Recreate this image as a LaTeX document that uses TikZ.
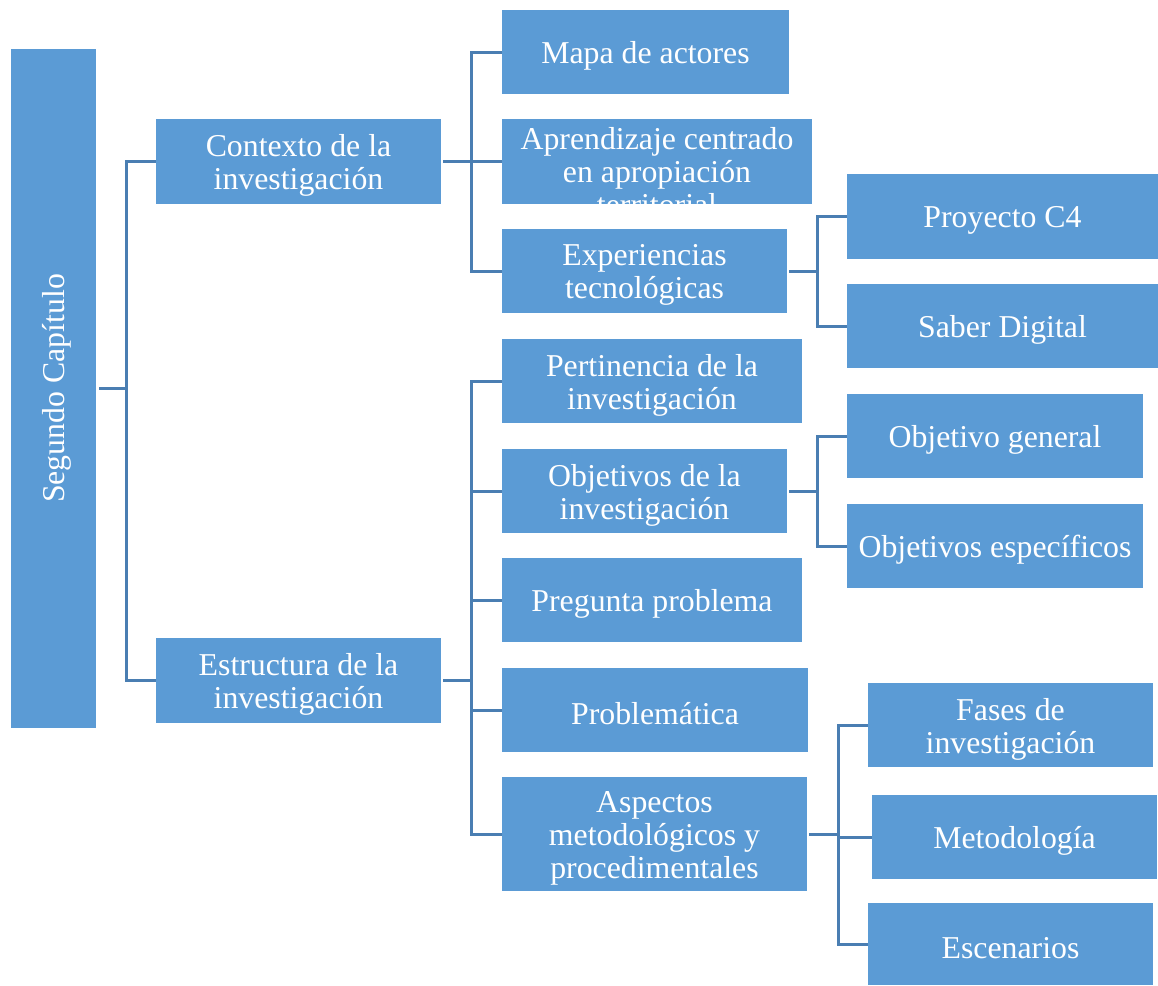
\documentclass[tikz,border=0pt]{standalone}
\usepackage{fontspec}
\setmainfont{Liberation Serif}
\definecolor{boxblue}{HTML}{5B9BD5}
\definecolor{lineblue}{HTML}{4A7EB2}
% \diagbox{name}{x1}{y1}{x2}{y2}{text}: filled box given by its corners, text centred
\newcommand\diagbox[6]{%
  \node[box,minimum width={(#4-#2)*1pt},minimum height={(#5-#3)*1pt}]
    (#1) at ({(#2+#4)/2},{(#3+#5)/2}) {};
  \node[boxtext] (#1-t) at ([yshift=-4pt]#1.center) {#6};}
\begin{document}
\begin{tikzpicture}[x=1pt,y=-1pt,
  box/.style={fill=boxblue,draw=none,inner sep=0pt,outer sep=0pt},
  boxtext/.style={text=white,align=center,inner sep=0pt,
    font=\fontsize{31.8}{33}\selectfont},
  conn/.style={draw=lineblue,line width=3pt,line cap=rect}]
\useasboundingbox (0,0) rectangle (1158,985);

% root
\diagbox{seg}{11}{49}{96}{728}{}
\node[boxtext,rotate=90] (segt) at ([xshift=3]seg.center) {Segundo Capítulo};

% first level
\diagbox{ctx}{156}{119}{441}{204}{Contexto de la\\investigación}
\diagbox{est}{156}{638}{441}{723}{Estructura de la\\investigación}

% children of "Contexto"
\diagbox{mapa}{502}{10}{789}{94}{Mapa de actores}
\diagbox{apr}{502}{119}{812}{204}{}
\begin{scope}
  \clip (apr.south west) rectangle (apr.north east);
  \node[boxtext] (aprt) at (657,172)
    {Aprendizaje centrado\\en apropiación\\territorial};
\end{scope}
\diagbox{exp}{502}{229}{787}{313}{Experiencias\\tecnológicas}

% children of "Estructura"
\diagbox{pert}{502}{339}{802}{423}{Pertinencia de la\\investigación}
\diagbox{obj}{502}{449}{787}{533}{Objetivos de la\\investigación}
\diagbox{preg}{502}{558}{802}{642}{Pregunta problema}
\diagbox{prob}{502}{668}{808}{752}{Problemática}
\diagbox{asp}{502}{777}{807}{891}{Aspectos\\metodológicos y\\procedimentales}

% third level
\diagbox{c4}{847}{174}{1158}{259}{Proyecto C4}
\diagbox{sab}{847}{284}{1158}{368}{Saber Digital}
\diagbox{ogen}{847}{394}{1143}{478}{Objetivo general}
\diagbox{oesp}{847}{504}{1143}{588}{Objetivos específicos}
\diagbox{fas}{868}{683}{1153}{767}{Fases de\\investigación}
\diagbox{met}{872}{795}{1157}{879}{Metodología}
\diagbox{esc}{868}{903}{1153}{985}{Escenarios}

% bus lines
\coordinate (b1) at (126,0);
\coordinate (b2) at (471,0);
\coordinate (b3) at (817,0);
\coordinate (b4) at (838,0);

% root -> first level
\draw[conn] ([xshift=4]seg.east) -- (seg.east -| b1);
\draw[conn] ([xshift=-2]ctx.west) -| (b1 |- est.west) -- ([xshift=-2]est.west);

% Contexto -> children
\draw[conn] ([xshift=3]ctx.east) -- (ctx.east -| b2);
\draw[conn] ([xshift=-2]mapa.west) -| (b2 |- exp.west) -- ([xshift=-2]exp.west);
\draw[conn] (b2 |- apr.west) -- ([xshift=-2]apr.west);

% Estructura -> children
\draw[conn] ([xshift=3]est.east) -- (est.east -| b2);
\draw[conn] ([xshift=-2]pert.west) -| (b2 |- asp.west) -- ([xshift=-2]asp.west);
\draw[conn] (b2 |- obj.west) -- ([xshift=-2]obj.west);
\draw[conn] (b2 |- preg.west) -- ([xshift=-2]preg.west);
\draw[conn] (b2 |- prob.west) -- ([xshift=-2]prob.west);

% Experiencias -> children
\draw[conn] ([xshift=3]exp.east) -- (exp.east -| b3);
\draw[conn] ([xshift=-2]c4.west) -| (b3 |- sab.west) -- ([xshift=-2]sab.west);

% Objetivos -> children
\draw[conn] ([xshift=3]obj.east) -- (obj.east -| b3);
\draw[conn] ([xshift=-2]ogen.west) -| (b3 |- oesp.west) -- ([xshift=-2]oesp.west);

% Aspectos -> children
\draw[conn] ([xshift=3]asp.east) -- (asp.east -| b4);
\draw[conn] ([xshift=-2]fas.west) -| (b4 |- esc.west) -- ([xshift=-2]esc.west);
\draw[conn] (b4 |- met.west) -- ([xshift=-2]met.west);
\end{tikzpicture}
\end{document}
